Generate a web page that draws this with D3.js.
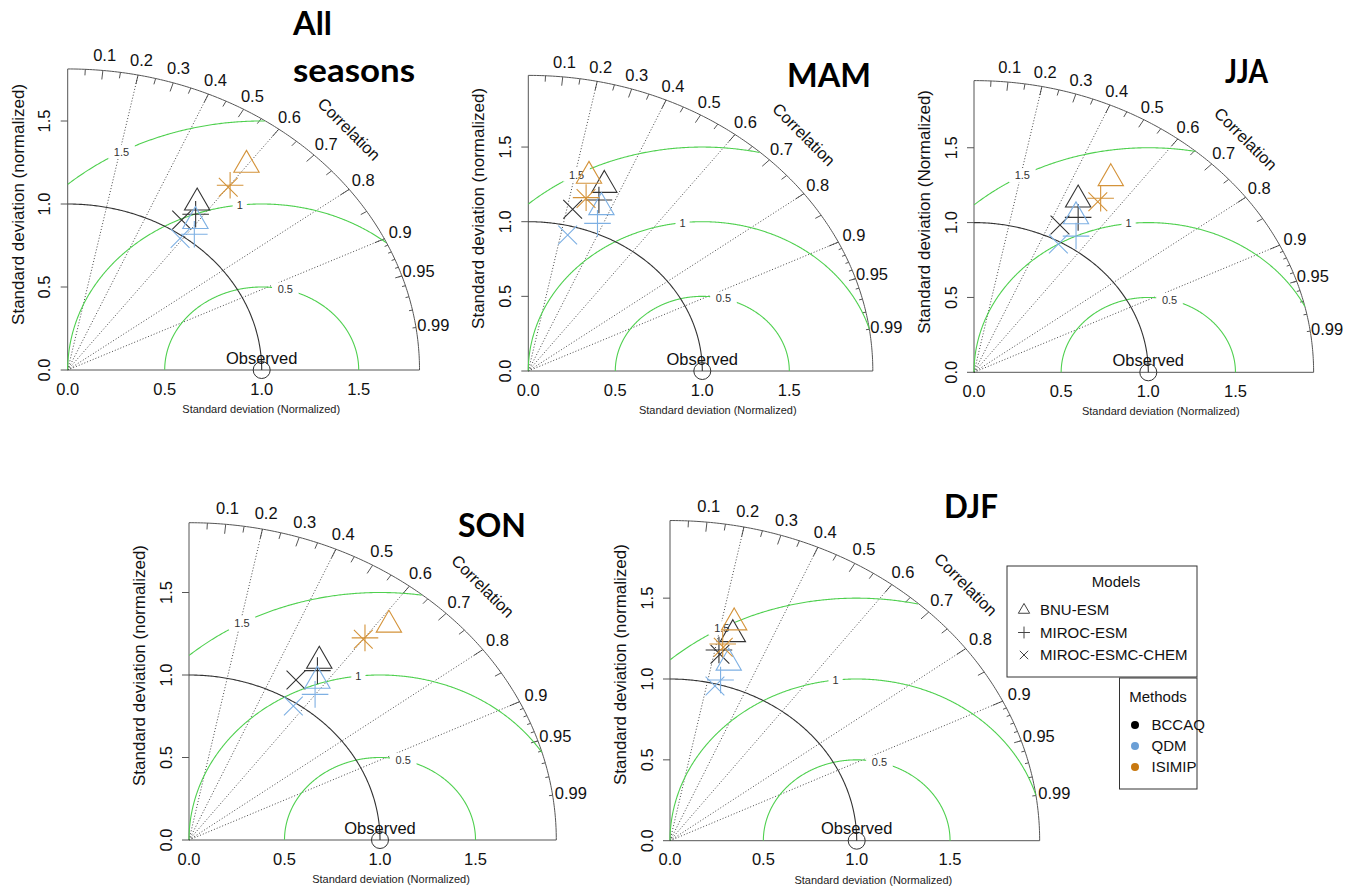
<!DOCTYPE html>
<html><head><meta charset="utf-8">
<script src="https://cdn.jsdelivr.net/npm/d3@7"></script>
<style>body{margin:0;background:#fff} svg{display:block}</style>
</head><body>
<svg id="c" width="1352" height="889"></svg>
<script>
// ---------------- data ----------------
const seasons = ["All seasons", "MAM", "JJA", "SON", "DJF"];
const models = ["BNU-ESM", "MIROC-ESM", "MIROC-ESMC-CHEM"];
const methods = ["BCCAQ", "QDM", "ISIMIP"];
// normalized standard deviation; rows = methods, columns = models
const sdAll = [[1.209, 1.147, 1.078], [1.112, 1.046, 0.982], [1.541, 1.393, 1.377]];
const corAll = [[0.552, 0.575, 0.545], [0.592, 0.624, 0.590], [0.598, 0.601, 0.601]];
const sdMAM = [[1.320, 1.215, 1.113], [1.174, 1.066, 0.939], [1.352, 1.208, 1.202]];
const corMAM = [[0.331, 0.334, 0.229], [0.358, 0.373, 0.241], [0.258, 0.275, 0.276]];
const sdJJA = [[1.299, 1.195, 1.101], [1.194, 1.082, 0.984], [1.515, 1.371, 1.343]];
const corJJA = [[0.460, 0.500, 0.448], [0.490, 0.541, 0.492], [0.518, 0.530, 0.529]];
const sdSON = [[1.282, 1.227, 1.120], [1.175, 1.102, 0.979], [1.672, 1.533, 1.521]];
const corSON = [[0.532, 0.548, 0.500], [0.572, 0.599, 0.558], [0.626, 0.601, 0.600]];
const sdDJF = [[1.320, 1.208, 1.184], [1.144, 1.030, 0.987], [1.392, 1.249, 1.230]];
const corDJF = [[0.255, 0.217, 0.226], [0.275, 0.263, 0.244], [0.247, 0.226, 0.232]];
const sdData = [sdAll, sdMAM, sdJJA, sdSON, sdDJF];
const corData = [corAll, corMAM, corJJA, corSON, corDJF];
const corrLabels = [0.1, 0.2, 0.3, 0.4, 0.5, 0.6, 0.7, 0.8, 0.9, 0.95, 0.99];
const corrLines = [0.2, 0.4, 0.6, 0.8, 0.9];
const sdTicks = [0, 0.5, 1, 1.5];
const sdTickLabels = ["0.0", "0.5", "1.0", "1.5"];
const rmsLevels = [0.5, 1, 1.5];
const rmsLabels = ["0.5", "1", "1.5"];
const yTitles = ["Standard deviation (normalized)", "Standard deviation (normalized)",
  "Standard deviation (Normalized)", "Standard deviation (normalized)", "Standard deviation (normalized)"];
const xTitle = "Standard deviation (Normalized)";

// ---------------- styles / layout ----------------
const methodColors = ["#333333", "#7eb0e3", "#d4933a"];
const legendDotColors = ["#000000", "#6b9fd6", "#c8780f"];
const green = "#4fd04f";
const FONT = "'Liberation Sans', Arial, sans-serif";
const layout = [
  {ox: 67.7, oy: 370, kx: 194, ky: 166, title: [["All", 293, 35, 39], ["seasons", 293, 82, 122]]},
  {ox: 528.3, oy: 371, kx: 174, ky: 149.3, title: [["MAM", 787, 87, 84]]},
  {ox: 974, oy: 372.3, kx: 174.3, ky: 149.7, title: [["JJA", 1225, 82.5, 43]]},
  {ox: 189, oy: 840, kx: 191, ky: 165, title: [["SON", 458, 537, 68]]},
  {ox: 670, oy: 840.7, kx: 186.7, ky: 161.7, title: [["DJF", 944, 518, 54]]}
];
const rmsLabelAngle = [75.9, 96.5, 118.8];
const R = 9.4; // marker radius

const svg = d3.select("#c");
svg.append("rect").attr("width", 1352).attr("height", 889).attr("fill", "#fff");

function markerPath(shape, r) {
  if (shape === 0) { // triangle (pch 2)
    const t = 1.5551 * r, xc = 1.3468 * r, yc = 0.7776 * r;
    return `M0,${-t}L${xc},${yc}L${-xc},${yc}Z`;
  } else if (shape === 1) { // plus (pch 3)
    const a = 1.4142 * r;
    return `M${-a},0H${a}M0,${-a}V${a}`;
  } else { // cross (pch 4)
    return `M${-r},${-r}L${r},${r}M${-r},${r}L${r},${-r}`;
  }
}

layout.forEach((L, pi) => {
  const sds = sdData[pi], cors = corData[pi];
  const maxsd = 1.5 * sds[0][0];
  const sx = d3.scaleLinear().domain([0, 1]).range([L.ox, L.ox + L.kx]);
  const sy = d3.scaleLinear().domain([0, 1]).range([L.oy, L.oy - L.ky]);
  const P = (r, c) => [sx(r * c), sy(r * Math.sqrt(Math.max(0, 1 - c * c)))];
  const line = d3.line().x(d => sx(d[0])).y(d => sy(d[1]));
  const g = svg.append("g");

  // axes
  g.append("path").attr("d", line([[0, maxsd], [0, 0], [maxsd, 0]]))
    .attr("fill", "none").attr("stroke", "#555").attr("stroke-width", 1);
  // outer arc
  const arc = d3.range(0, 1.0001, 0.005).map(t => [maxsd * Math.cos(t * Math.PI / 2), maxsd * Math.sin(t * Math.PI / 2)]);
  g.append("path").attr("d", line(arc)).attr("fill", "none").attr("stroke", "#555").attr("stroke-width", 1);
  // ticks on outer arc
  const tickSets = [[d3.range(1, 10).map(i => i / 10), 0.97], [d3.range(0, 10).map(i => 0.05 + i / 10), 0.98], [d3.range(1, 10).map(i => 0.9 + i / 100), 0.99]];
  tickSets.forEach(([vals, f]) => {
    vals.forEach(c => {
      const a = P(maxsd, c), b = P(maxsd * f, c);
      g.append("line").attr("x1", a[0]).attr("y1", a[1]).attr("x2", b[0]).attr("y2", b[1])
        .attr("stroke", "#555").attr("stroke-width", 1);
    });
  });
  // correlation lines
  corrLines.forEach(c => {
    const a = P(0, c), b = P(maxsd, c);
    g.append("line").attr("x1", a[0]).attr("y1", a[1]).attr("x2", b[0]).attr("y2", b[1])
      .attr("stroke", "#333").attr("stroke-width", 0.9).attr("stroke-dasharray", "1,2");
  });
  // correlation labels
  corrLabels.forEach(c => {
    const p = P(maxsd * 1.05, c);
    g.append("text").attr("x", p[0]).attr("y", p[1]).attr("dy", "0.35em").attr("text-anchor", "middle")
      .attr("font-family", FONT).attr("font-size", 16.5).attr("fill", "#111").text(String(c));
  });
  const cp = [sx(0.8 * maxsd), sy(0.8 * maxsd)];
  g.append("text").attr("transform", `translate(${cp[0]},${cp[1]}) rotate(45)`).attr("dy", "0.35em")
    .attr("text-anchor", "middle").attr("font-family", FONT).attr("font-size", 16.5).attr("fill", "#111").text("Correlation");

  // RMS contours
  rmsLevels.forEach((gm, gi) => {
    const pts = [];
    for (let t = 0; t <= Math.PI + 1e-9; t += 0.005) {
      const x = 1 + gm * Math.cos(t), y = gm * Math.sin(t);
      if (x < 0) break;
      if (x * x + y * y > maxsd * maxsd) continue;
      pts.push([x, y]);
    }
    g.append("path").attr("d", line(pts)).attr("fill", "none").attr("stroke", green).attr("stroke-width", 1.1);
    const a = rmsLabelAngle[gi] * Math.PI / 180;
    const lx = sx(1 + gm * Math.cos(a)), ly = sy(gm * Math.sin(a));
    const w = rmsLabels[gi].length * 6.2 + 8;
    g.append("rect").attr("x", lx - w / 2).attr("y", ly - 7).attr("width", w).attr("height", 14).attr("fill", "#fff");
    g.append("text").attr("x", lx).attr("y", ly).attr("dy", "0.35em").attr("text-anchor", "middle")
      .attr("font-family", FONT).attr("font-size", 11).attr("fill", "#333").text(rmsLabels[gi]);
  });

  // reference sd arc
  const refArc = d3.range(0, 1.0001, 0.005).map(t => [Math.cos(t * Math.PI / 2), Math.sin(t * Math.PI / 2)]);
  g.append("path").attr("d", line(refArc)).attr("fill", "none").attr("stroke", "#333").attr("stroke-width", 1.1);

  // y ticks + labels
  sdTicks.forEach((v, i) => {
    g.append("line").attr("x1", sx(0)).attr("x2", sx(0) - 7).attr("y1", sy(v)).attr("y2", sy(v))
      .attr("stroke", "#555").attr("stroke-width", 1);
    g.append("text").attr("transform", `translate(${sx(0) - 23},${sy(v)}) rotate(-90)`).attr("dy", "0.35em")
      .attr("text-anchor", "middle").attr("font-family", FONT).attr("font-size", 16.5).attr("fill", "#111").text(sdTickLabels[i]);
    g.append("text").attr("x", sx(v)).attr("y", sy(0) + 19).attr("dy", "0.35em")
      .attr("text-anchor", "middle").attr("font-family", FONT).attr("font-size", 16.5).attr("fill", "#111").text(sdTickLabels[i]);
  });
  // axis titles (centred on the plot region, which spans 0 .. 1.1*maxsd)
  const mid = 0.55 * maxsd;
  g.append("text").attr("transform", `translate(${sx(0) - 50},${sy(mid)}) rotate(-90)`).attr("dy", "0.35em")
    .attr("text-anchor", "middle").attr("font-family", FONT).attr("font-size", 17).attr("fill", "#111").text(yTitles[pi]);
  g.append("text").attr("x", sx(mid)).attr("y", sy(0) + 39).attr("dy", "0.35em")
    .attr("text-anchor", "middle").attr("font-family", FONT).attr("font-size", 11).attr("fill", "#222").text(xTitle);

  // observed
  g.append("circle").attr("cx", sx(1)).attr("cy", sy(0)).attr("r", 8.5).attr("fill", "none").attr("stroke", "#333");
  g.append("text").attr("x", sx(1)).attr("y", sy(0) - 12).attr("dy", "0.35em").attr("text-anchor", "middle")
    .attr("font-family", FONT).attr("font-size", 16.5).attr("fill", "#111").text("Observed");

  // model points
  methods.forEach((m, mi) => {
    models.forEach((md, si) => {
      const p = P(sds[mi][si], cors[mi][si]);
      g.append("path").attr("transform", `translate(${p[0]},${p[1]})`).attr("d", markerPath(si, R))
        .attr("fill", "none").attr("stroke", methodColors[mi]).attr("stroke-width", 1.1);
    });
  });

  // title
  L.title.forEach(([t, x, y, w]) => {
    svg.append("text").attr("x", x).attr("y", y).attr("font-family", "Lato, 'Open Sans', sans-serif")
      .attr("font-weight", 700).attr("font-size", 32).attr("textLength", w).attr("lengthAdjust", "spacingAndGlyphs")
      .attr("fill", "#000").text(t);
  });
});

// ---------------- legends ----------------
const lg = svg.append("g").attr("font-family", FONT);
lg.append("rect").attr("x", 1007).attr("y", 566).attr("width", 190).attr("height", 111)
  .attr("fill", "#fff").attr("stroke", "#333").attr("stroke-width", 1);
lg.append("text").attr("x", 1116).attr("y", 582).attr("dy", "0.35em").attr("text-anchor", "middle")
  .attr("font-size", 15).attr("fill", "#111").text("Models");
models.forEach((m, i) => {
  const y = 610 + i * 22.5;
  lg.append("path").attr("transform", `translate(1024,${y})`).attr("d", markerPath(i, 4.2))
    .attr("fill", "none").attr("stroke", "#444").attr("stroke-width", 1);
  lg.append("text").attr("x", 1040).attr("y", y).attr("dy", "0.35em").attr("font-size", 15).attr("fill", "#111").text(m);
});
lg.append("rect").attr("x", 1119.5).attr("y", 678).attr("width", 77.5).attr("height", 111)
  .attr("fill", "#fff").attr("stroke", "#333").attr("stroke-width", 1);
lg.append("text").attr("x", 1158).attr("y", 697).attr("dy", "0.35em").attr("text-anchor", "middle")
  .attr("font-size", 15).attr("fill", "#111").text("Methods");
methods.forEach((m, i) => {
  const y = 725 + i * 21;
  lg.append("circle").attr("cx", 1135).attr("cy", y).attr("r", 4).attr("fill", legendDotColors[i]);
  lg.append("text").attr("x", 1151.5).attr("y", y).attr("dy", "0.35em").attr("font-size", 15).attr("fill", "#111").text(m);
});
</script>
</body></html>
